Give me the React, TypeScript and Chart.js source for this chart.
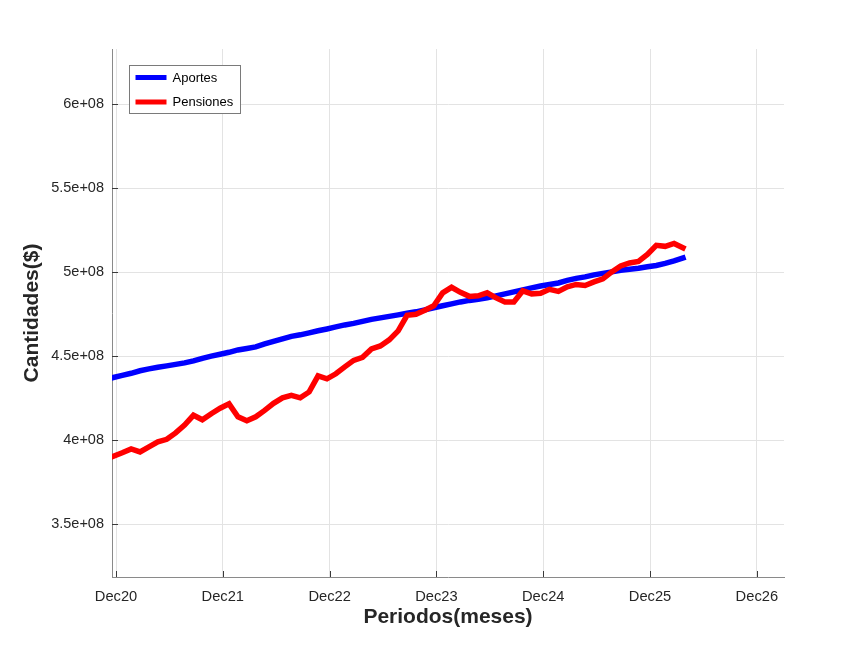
import React, { useEffect, useRef } from "react";
import { Chart, registerables } from "chart.js";

Chart.register(...registerables);

// Monthly observations, Dec 2020 ... Apr 2026
const monthLabels = [
  "Dec20","Jan21","Feb21","Mar21","Apr21","May21","Jun21","Jul21","Aug21","Sep21","Oct21","Nov21",
  "Dec21","Jan22","Feb22","Mar22","Apr22","May22","Jun22","Jul22","Aug22","Sep22","Oct22","Nov22",
  "Dec22","Jan23","Feb23","Mar23","Apr23","May23","Jun23","Jul23","Aug23","Sep23","Oct23","Nov23",
  "Dec23","Jan24","Feb24","Mar24","Apr24","May24","Jun24","Jul24","Aug24","Sep24","Oct24","Nov24",
  "Dec24","Jan25","Feb25","Mar25","Apr25","May25","Jun25","Jul25","Aug25","Sep25","Oct25","Nov25",
  "Dec25","Jan26","Feb26","Mar26","Apr26",
];

const aportes = [
  4.373e8, 4.386e8, 4.398e8, 4.413e8, 4.424e8, 4.434e8, 4.442e8, 4.451e8, 4.460e8, 4.472e8, 4.487e8, 4.500e8,
  4.511e8, 4.523e8, 4.537e8, 4.546e8, 4.555e8, 4.573e8, 4.588e8, 4.603e8, 4.618e8, 4.627e8, 4.639e8, 4.651e8,
  4.662e8, 4.674e8, 4.686e8, 4.695e8, 4.707e8, 4.719e8, 4.728e8, 4.737e8, 4.746e8, 4.755e8, 4.764e8, 4.776e8,
  4.788e8, 4.800e8, 4.811e8, 4.823e8, 4.832e8, 4.838e8, 4.847e8, 4.859e8, 4.871e8, 4.883e8, 4.895e8, 4.907e8,
  4.918e8, 4.927e8, 4.936e8, 4.951e8, 4.963e8, 4.972e8, 4.984e8, 4.993e8, 5.002e8, 5.011e8, 5.017e8, 5.023e8,
  5.032e8, 5.040e8, 5.052e8, 5.067e8, 5.085e8,
];

const pensiones = [
  3.904e8, 3.925e8, 3.948e8, 3.930e8, 3.960e8, 3.990e8, 4.005e8, 4.043e8, 4.090e8, 4.148e8, 4.121e8, 4.157e8,
  4.190e8, 4.216e8, 4.139e8, 4.115e8, 4.139e8, 4.177e8, 4.219e8, 4.252e8, 4.267e8, 4.252e8, 4.287e8, 4.383e8,
  4.365e8, 4.395e8, 4.436e8, 4.475e8, 4.493e8, 4.543e8, 4.561e8, 4.597e8, 4.651e8, 4.743e8, 4.749e8, 4.773e8,
  4.800e8, 4.877e8, 4.910e8, 4.880e8, 4.856e8, 4.859e8, 4.877e8, 4.847e8, 4.823e8, 4.823e8, 4.889e8, 4.871e8,
  4.874e8, 4.898e8, 4.886e8, 4.913e8, 4.927e8, 4.921e8, 4.942e8, 4.960e8, 5.002e8, 5.037e8, 5.055e8, 5.064e8,
  5.106e8, 5.160e8, 5.154e8, 5.171e8, 5.145e8,
];

// x axis is in months since 1-Dec-2020; observations sit slightly before the month start
const obsMonthShift = -0.3;
const xTickValues = [0, 12, 24, 36, 48, 60, 72];
const xTickLabels = ["Dec20", "Dec21", "Dec22", "Dec23", "Dec24", "Dec25", "Dec26"];
const yTickValues = [3.5e8, 4e8, 4.5e8, 5e8, 5.5e8, 6e8];
const yTickLabels = ["3.5e+08", "4e+08", "4.5e+08", "5e+08", "5.5e+08", "6e+08"];

const seriesNames = ["Aportes", "Pensiones"];
const seriesColors = ["#0000ff", "#ff0000"];

const FONT = "'Liberation Sans', Arial, Helvetica, sans-serif";

const inwardTicks = {
  id: "inwardTicks",
  afterDatasetsDraw(chart: any) {
    const { ctx, chartArea, scales } = chart;
    ctx.save();
    ctx.strokeStyle = "#3a3a3a";
    ctx.lineWidth = 1;
    ctx.beginPath();
    for (const v of xTickValues) {
      const px = Math.round(scales.x.getPixelForValue(v)) + 0.5;
      ctx.moveTo(px, chartArea.bottom);
      ctx.lineTo(px, chartArea.bottom - 6);
    }
    for (const v of yTickValues) {
      const py = Math.round(scales.y.getPixelForValue(v)) + 0.5;
      ctx.moveTo(chartArea.left, py);
      ctx.lineTo(chartArea.left + 6, py);
    }
    ctx.stroke();
    ctx.restore();
  },
};

const boxLegend = {
  id: "boxLegend",
  afterDraw(chart: any) {
    const { ctx, chartArea } = chart;
    const x0 = chartArea.left + 17.5;
    const y0 = chartArea.top + 16.5;
    const w = 111;
    const h = 48;
    ctx.save();
    ctx.fillStyle = "#ffffff";
    ctx.fillRect(x0, y0, w, h);
    ctx.strokeStyle = "#7a7a7a";
    ctx.lineWidth = 1;
    ctx.strokeRect(x0, y0, w, h);
    ctx.font = `13px ${FONT}`;
    ctx.textBaseline = "middle";
    ctx.textAlign = "left";
    seriesNames.forEach((name, i) => {
      const yy = y0 + 12 + i * 24.5;
      ctx.strokeStyle = seriesColors[i];
      ctx.lineWidth = 5;
      ctx.beginPath();
      ctx.moveTo(x0 + 6, yy);
      ctx.lineTo(x0 + 37, yy);
      ctx.stroke();
      ctx.fillStyle = "#000000";
      ctx.fillText(name, x0 + 43, yy + 0.5);
    });
    ctx.restore();
  },
};

export default function App() {
  const canvasRef = useRef<HTMLCanvasElement | null>(null);

  useEffect(() => {
    document.body.style.margin = "0";
    const canvas = canvasRef.current;
    if (!canvas) return;
    const chart = new Chart(canvas, {
      type: "line",
      data: {
        datasets: [
          {
            label: seriesNames[0],
            data: aportes.map((v, i) => ({ x: i + obsMonthShift, y: v })),
            borderColor: seriesColors[0],
            backgroundColor: seriesColors[0],
            borderWidth: 5.5,
            borderCapStyle: "square",
            pointRadius: 0,
            tension: 0,
            order: 1,
          },
          {
            label: seriesNames[1],
            data: pensiones.map((v, i) => ({ x: i + obsMonthShift, y: v })),
            borderColor: seriesColors[1],
            backgroundColor: seriesColors[1],
            borderWidth: 5.5,
            borderCapStyle: "square",
            pointRadius: 0,
            tension: 0,
            order: 0,
          },
        ],
      },
      options: {
        responsive: false,
        animation: false,
        devicePixelRatio: 1,
        layout: { padding: { left: 0, top: 49, right: 82, bottom: 0 } },
        plugins: {
          legend: { display: false },
          tooltip: { enabled: false },
        },
        scales: {
          x: {
            type: "linear",
            min: -0.45,
            max: 75.05,
            afterBuildTicks: (scale: any) => {
              scale.ticks = xTickValues.map((v) => ({ value: v }));
            },
            afterFit: (scale: any) => {
              scale.height = 72;
            },
            ticks: {
              autoSkip: false,
              maxRotation: 0,
              padding: 11,
              color: "#262626",
              font: { family: FONT, size: 14.7 },
              callback: (_v: any, i: number) => xTickLabels[i],
            },
            grid: { color: "#e3e3e3", lineWidth: 1, drawTicks: false },
            border: { display: true, color: "#8a8a8a", width: 1 },
            title: {
              display: true,
              text: "Periodos(meses)",
              color: "#262626",
              font: { family: FONT, size: 21, weight: "bold" },
              padding: { top: 0, bottom: 19 },
            },
          },
          y: {
            type: "linear",
            min: 3.185e8,
            max: 6.329e8,
            afterBuildTicks: (scale: any) => {
              scale.ticks = yTickValues.map((v) => ({ value: v }));
            },
            afterFit: (scale: any) => {
              scale.width = 112;
            },
            ticks: {
              padding: 8,
              color: "#262626",
              font: { family: FONT, size: 14.5 },
              callback: (_v: any, i: number) => yTickLabels[i],
            },
            grid: { color: "#e3e3e3", lineWidth: 1, drawTicks: false },
            border: { display: true, color: "#8a8a8a", width: 1 },
            title: {
              display: true,
              text: "Cantidades($)",
              color: "#262626",
              font: { family: FONT, size: 21, weight: "bold" },
              padding: { top: 20, bottom: 0 },
            },
          },
        },
      },
      plugins: [inwardTicks, boxLegend],
    });
    return () => chart.destroy();
  }, []);

  return (
    <div>
      <canvas ref={canvasRef} width={866} height={649} style={{ display: "block", width: 866, height: 649 }} />
    </div>
  );
}
